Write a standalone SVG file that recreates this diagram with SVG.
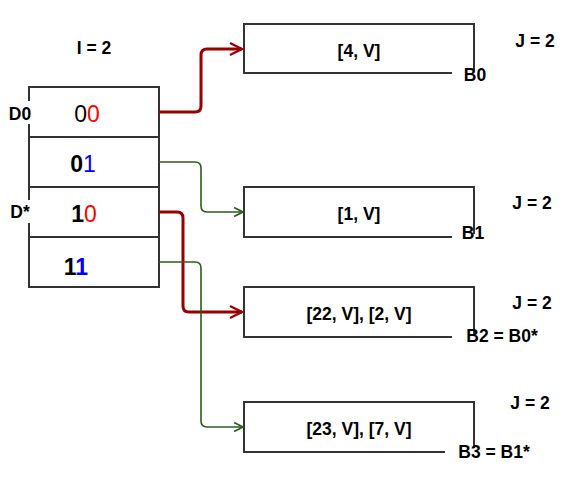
<svg xmlns="http://www.w3.org/2000/svg" width="563" height="487" viewBox="0 0 563 487">
<style>
.box{fill:#fff;stroke:#333;stroke-width:2}
.lbl{font-family:"Liberation Sans",Arial,sans-serif;font-weight:bold;font-size:17.5px;fill:#000}
.num{font-family:"Liberation Sans",Arial,sans-serif;font-size:23px}
.b{font-weight:bold}
.bg{fill:#fff}
.red{stroke:#990000;stroke-width:3;fill:none}
.grn{stroke:#2F5B1A;stroke-width:1.6;fill:none}
</style>
<defs>
<marker id="ar" viewBox="0 0 10 10" refX="9" refY="5" markerWidth="5" markerHeight="5" orient="auto" markerUnits="strokeWidth"><path d="M1,1 L9,5 L1,9" fill="none" stroke="#990000" stroke-width="1.5"/></marker>
<marker id="ag" viewBox="0 0 10 10" refX="9" refY="5" markerWidth="7" markerHeight="7" orient="auto" markerUnits="strokeWidth"><path d="M1,1 L9,5 L1,9" fill="none" stroke="#2F5B1A" stroke-width="1.5"/></marker>
</defs>
<rect width="563" height="487" fill="#fff"/>
<text class="lbl" x="94" y="54" text-anchor="middle">I = 2</text>
<g id="directory">
<rect class="box" x="29" y="87" width="130" height="50"/>
<rect class="box" x="29" y="137" width="130" height="50"/>
<rect class="box" x="29" y="187" width="130" height="50"/>
<rect class="box" x="29" y="237" width="130" height="50"/>
<text class="num" x="87" y="122" text-anchor="middle"><tspan fill="#000">0</tspan><tspan fill="#FF0000">0</tspan></text>
<text class="num" x="83" y="172" text-anchor="middle"><tspan fill="#000" class="b">0</tspan><tspan fill="#0000FF">1</tspan></text>
<text class="num" x="84" y="222" text-anchor="middle"><tspan fill="#000" class="b">1</tspan><tspan fill="#FF0000">0</tspan></text>
<text class="num b" x="76" y="275" text-anchor="middle"><tspan fill="#000">1</tspan><tspan fill="#0000FF">1</tspan></text>
<rect class="bg" x="7" y="101" width="25" height="23"/>
<text class="lbl" x="20" y="120" text-anchor="middle">D0</text>
<rect class="bg" x="7" y="200" width="25" height="23"/>
<text class="lbl" x="20" y="218" text-anchor="middle">D*</text>
</g>
<g id="B0">
<path class="box" d="M452,73 L244,73 L244,24 L474,24 L474,70" fill="none"/>
<text class="lbl" x="359" y="57" text-anchor="middle">[4, V]</text>
<text class="lbl" x="475" y="81" text-anchor="middle">B0</text>
<text class="lbl" x="535" y="47" text-anchor="middle">J = 2</text>
</g>
<g id="B1">
<path class="box" d="M452,237 L244,237 L244,187 L474,187 L474,234" fill="none"/>
<text class="lbl" x="359" y="220" text-anchor="middle">[1, V]</text>
<text class="lbl" x="473" y="239" text-anchor="middle">B1</text>
<text class="lbl" x="532" y="209" text-anchor="middle">J = 2</text>
</g>
<g id="B2">
<path class="box" d="M452,337 L244,337 L244,287 L474,287 L474,334" fill="none"/>
<text class="lbl" x="359" y="320" text-anchor="middle">[22, V], [2, V]</text>
<text class="lbl" x="502" y="342" text-anchor="middle">B2 = B0*</text>
<text class="lbl" x="532" y="309" text-anchor="middle">J = 2</text>
</g>
<g id="B3">
<path class="box" d="M445,452 L244,452 L244,402 L474,402 L474,448" fill="none"/>
<text class="lbl" x="359" y="435" text-anchor="middle">[23, V], [7, V]</text>
<text class="lbl" x="494" y="458" text-anchor="middle">B3 = B1*</text>
<text class="lbl" x="530" y="409" text-anchor="middle">J = 2</text>
</g>
<g id="connectors">
<path class="red" d="M159,112 L195,112 Q201,112 201,106 L201,55 Q201,49 207,49 L242,49" marker-end="url(#ar)"/>
<path class="grn" d="M159,162 L195,162 Q201,162 201,168 L201,206 Q201,212 207,212 L243,212" marker-end="url(#ag)"/>
<path class="red" d="M159,212 L177,212 Q183,212 183,218 L183,306 Q183,312 189,312 L242,312" marker-end="url(#ar)"/>
<path class="grn" d="M159,262 L195,262 Q201,262 201,268 L201,421 Q201,427 207,427 L243,427" marker-end="url(#ag)"/>
</g>
</svg>
